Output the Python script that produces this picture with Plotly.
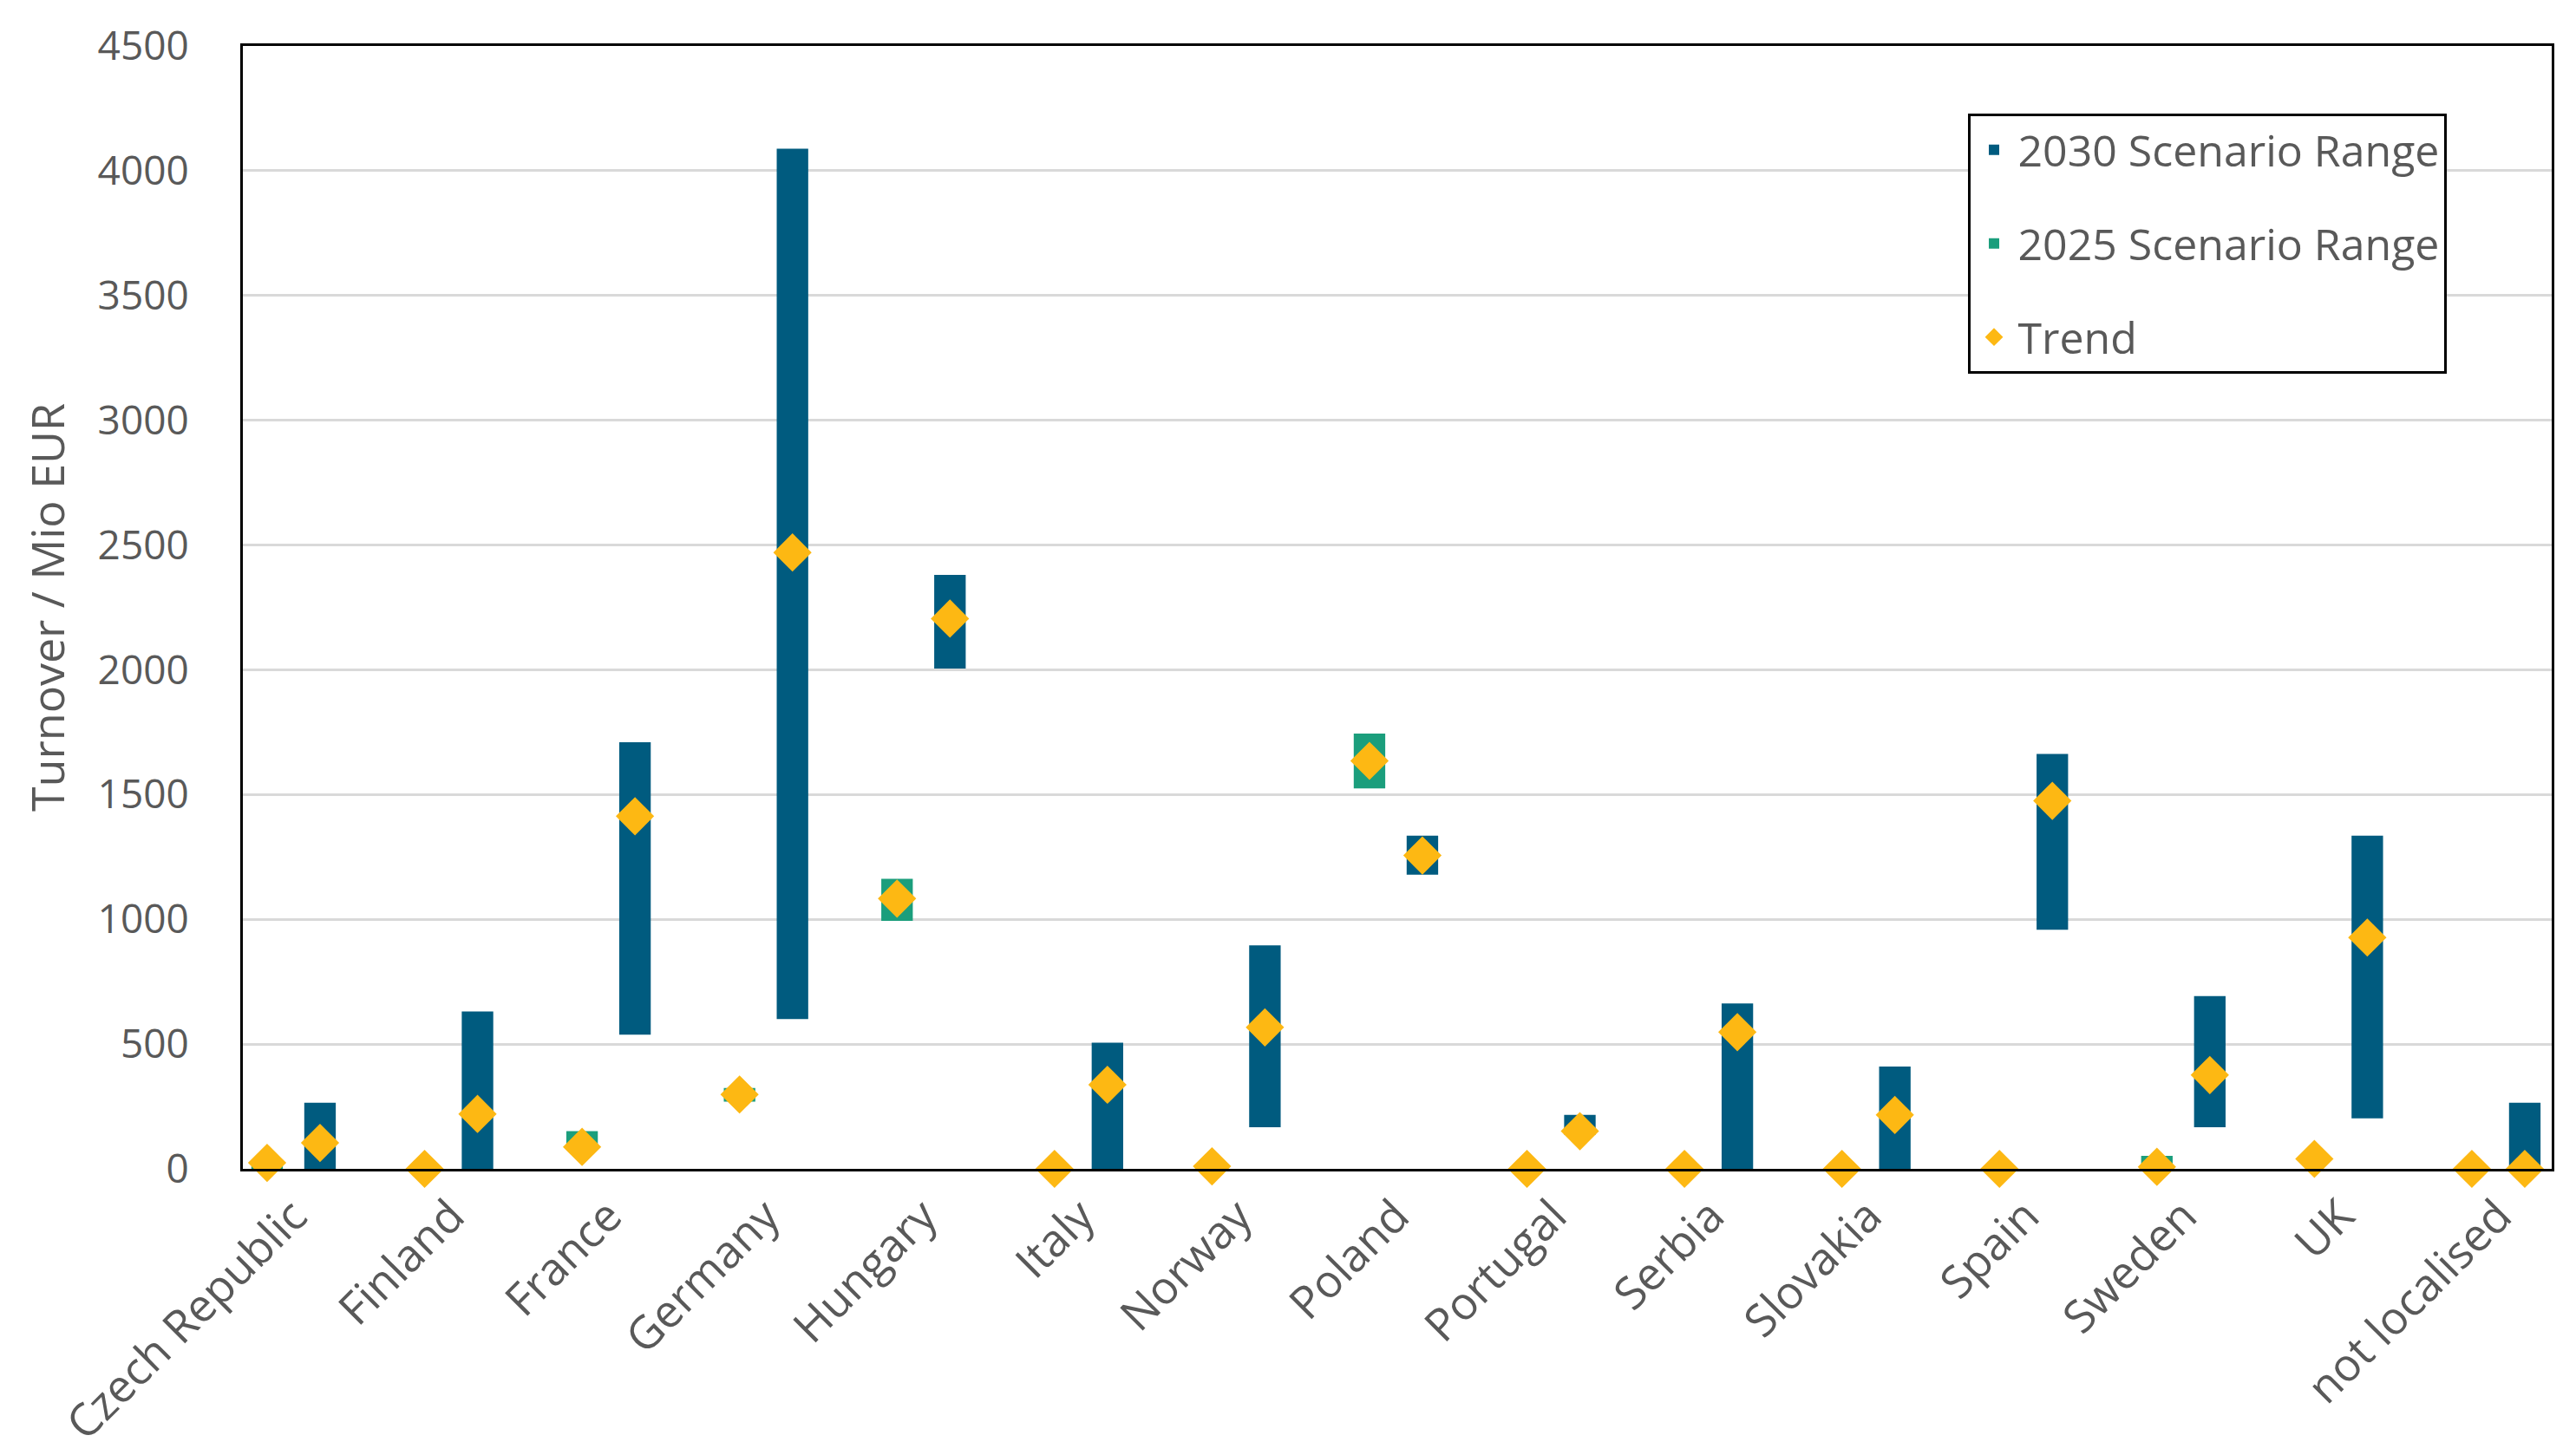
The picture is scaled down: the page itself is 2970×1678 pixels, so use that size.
import plotly.graph_objects as go

countries = ["Czech Republic", "Finland", "France", "Germany", "Hungary", "Italy",
             "Norway", "Poland", "Portugal", "Serbia", "Slovakia", "Spain",
             "Sweden", "UK", "not localised"]

# 2025 scenario range (low / high), None = no bar
r2025_low = [0, None, 78, 269, 994, None, 0, 1525, None, 0, None, 0, 0, None, None]
r2025_high = [10, None, 151, 324, 1162, None, 15, 1744, None, 5, None, 5, 52, None, None]

# 2030 scenario range (low / high)
r2030_low = [0, 0, 538, 600, 2005, 0, 167, 1179, 137, 0, 0, 958, 167, 202, 0]
r2030_high = [265, 631, 1710, 4088, 2380, 506, 896, 1335, 216, 663, 410, 1663, 692, 1335, 265]

# Trend values at 2025 and 2030
trend2025 = [24, 0, 88, 298, 1083, 0, 10, 1635, 0, 0, 0, 0, 8, 40, 0]
trend2030 = [104, 220, 1413, 2470, 2205, 337, 567, 1256, 151, 548, 216, 1475, 376, 927, 0]

yticks = [0, 500, 1000, 1500, 2000, 2500, 3000, 3500, 4000, 4500]

OFF = 0.168
BLUE = "#005B7F"
GREEN = "#1B9E7C"
GOLD = "#FDB813"
GREY = "#595959"

x25 = [i - OFF for i in range(len(countries))]
x30 = [i + OFF for i in range(len(countries))]

b25x, b25base, b25y = [], [], []
for xi, lo, hi in zip(x25, r2025_low, r2025_high):
    if lo is not None:
        b25x.append(xi)
        b25base.append(lo)
        b25y.append(hi - lo)

fig = go.Figure()
fig.add_trace(go.Bar(
    x=x30, base=r2030_low, y=[h - l for h, l in zip(r2030_high, r2030_low)],
    width=0.2, marker=dict(color=BLUE, line=dict(width=0)),
    name="2030 Scenario Range", legendgroup="a",
))
fig.add_trace(go.Bar(
    x=b25x, base=b25base, y=b25y,
    width=0.2, marker=dict(color=GREEN, line=dict(width=0)),
    name="2025 Scenario Range", legendgroup="b",
))
tx, ty = [], []
for i in range(len(countries)):
    tx += [x25[i], x30[i]]
    ty += [trend2025[i], trend2030[i]]
fig.add_trace(go.Scatter(
    x=tx, y=ty, mode="markers",
    marker=dict(symbol="diamond", size=34, color=GOLD, line=dict(width=0)),
    name="Trend", cliponaxis=False, legendgroup="c",
))

fig.update_layout(
    width=2970, height=1678,
    paper_bgcolor="white", plot_bgcolor="white",
    barmode="overlay",
    margin=dict(l=272, r=36, t=45, b=328),
    font=dict(family="Open Sans", size=46, color=GREY),
    showlegend=True,
    legend=dict(
        x=0.747, y=0.94, xanchor="left", yanchor="top",
        bordercolor="black", borderwidth=3, bgcolor="white",
        font=dict(family="Open Sans", size=50, color=GREY),
        tracegroupgap=40, itemsizing="trace", itemwidth=45,
    ),
)
fig.update_xaxes(
    range=[-0.322, 14.339],
    tickmode="array", tickvals=list(range(len(countries))), ticktext=countries,
    tickangle=-45, ticks="", showgrid=False, zeroline=False,
    showline=True, mirror=True, linecolor="black", linewidth=3,
    tickfont=dict(family="Open Sans", size=52, color=GREY),
)
fig.update_yaxes(
    range=[0, 4500], tickmode="array", tickvals=yticks,
    ticktext=[str(v) for v in yticks],
    showgrid=True, gridcolor="#D9D9D9", gridwidth=3, zeroline=False,
    showline=True, mirror=True, linecolor="black", linewidth=3,
    ticks="", ticklabelstandoff=50,
    tickfont=dict(family="Open Sans", size=46, color=GREY),
    title=dict(text="Turnover / Mio EUR", font=dict(family="Open Sans", size=52, color=GREY), standoff=22),
)

fig.write_html("out.html")
